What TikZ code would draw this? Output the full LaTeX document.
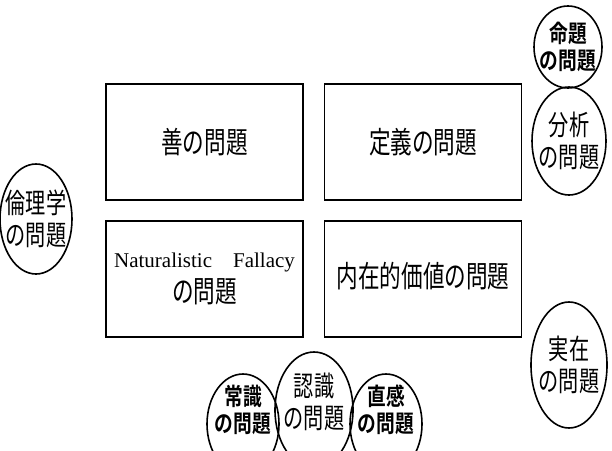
\documentclass[tikz,border=0pt]{standalone}
\usepackage{fontspec}
\usetikzlibrary{shapes.geometric}
\newfontfamily\jp[FakeStretch=0.72]{Noto Sans CJK JP}
\newfontfamily\jpb[FakeStretch=0.78]{Noto Sans CJK JP Bold}
\newfontfamily\lat{Liberation Serif}
\tikzset{
  probbox/.style={draw, line width=1.8pt, rectangle, minimum width=197pt, minimum height=116pt, inner sep=0pt, align=center},
  boxfont/.style={font=\jp\fontsize{30}{33}\selectfont},
  ell/.style={draw, line width=1.6pt, ellipse, inner sep=0pt},
  bigtxt/.style={align=center, inner sep=0pt, font=\jp\fontsize{28}{32}\selectfont},
  smalltxt/.style={align=center, inner sep=0pt, font=\jpb\fontsize{24}{27}\selectfont},
}
\begin{document}
\begin{tikzpicture}[x=1pt,y=-1pt]
\useasboundingbox (0,0) rectangle (612,450);
\node[probbox, boxfont] (zen) at (204.5,142) {善の問題};
\node[probbox, boxfont] (teigi) at (423,142) {定義の問題};
\node[probbox] (nf) at (204.5,279) {{\lat\fontsize{21}{24}\selectfont Naturalistic\quad Fallacy}\\[6pt]{\jp\fontsize{30}{33}\selectfont の問題}};
\node[probbox, boxfont] (naizai) at (423,279) {\raisebox{8pt}{内在的価値の問題}};
\node[ell, minimum width=68pt, minimum height=82pt] (meidai) at (568,47) {};
\node[smalltxt] (meidait) at (meidai) {命題\\の問題};
\node[ell, minimum width=74pt, minimum height=108pt] (bunseki) at (569,141) {};
\node[bigtxt] (bunsekit) at (bunseki) {分析\\の問題};
\node[ell, minimum width=72pt, minimum height=110pt] (rinri) at (36,219) {};
\node[bigtxt] (rinrit) at (rinri) {倫理学\\の問題};
\node[ell, minimum width=76pt, minimum height=126pt] (jitsuzai) at (569,365) {};
\node[bigtxt] (jitsuzait) at (jitsuzai) {実在\\の問題};
\node[ell, minimum width=72pt, minimum height=100pt] (joshiki) at (243,424) {};
\node[smalltxt] (joshikit) at ([yshift=14pt]joshiki) {常識\\の問題};
\node[ell, minimum width=78pt, minimum height=116pt] (ninshiki) at (314,410) {};
\node[bigtxt] (ninshikit) at ([yshift=8pt]ninshiki) {認識\\の問題};
\node[ell, minimum width=72pt, minimum height=100pt] (chokkan) at (386,424) {};
\node[smalltxt] (chokkant) at ([yshift=14pt]chokkan) {直感\\の問題};
\end{tikzpicture}
\end{document}
